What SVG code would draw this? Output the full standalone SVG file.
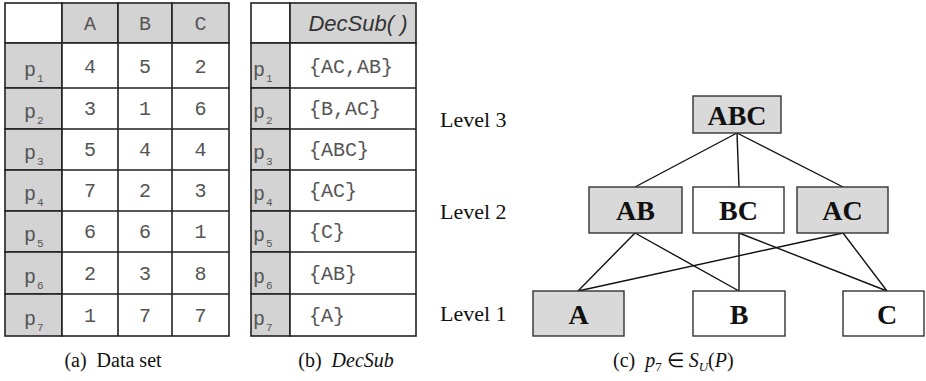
<svg xmlns="http://www.w3.org/2000/svg" width="926" height="381" viewBox="0 0 926 381">
  <style>
    .cell { stroke: #222; stroke-width: 1.6; }
    .hd { fill: #d3d3d3; }
    .wh { fill: #ffffff; }
    .mono { font-family: "Liberation Mono", "DejaVu Sans Mono", monospace; font-size: 20px; fill: #555; }
    .sub { font-family: "Liberation Mono", "DejaVu Sans Mono", monospace; font-size: 11px; fill: #555; }
    .hsans { font-family: "Liberation Sans", Arial, sans-serif; font-size: 22px; font-style: italic; fill: #333; }
    .cap { font-family: "Liberation Serif", "Times New Roman", serif; font-size: 20px; fill: #111; }
    .lvl { font-family: "Liberation Serif", "Times New Roman", serif; font-size: 22px; fill: #111; }
    .node rect { stroke: #333; stroke-width: 1.4; }
    .node text { font-family: "Liberation Serif", "Times New Roman", serif; font-size: 28px; font-weight: bold; fill: #111; text-anchor: middle; }
    .g { fill: #d9d9d9; }
    .w { fill: #ffffff; }
    .edge line { stroke: #111; stroke-width: 1.4; }
  </style>

  <rect width="926" height="381" fill="#ffffff"/>

  <!-- (a) data set table -->
  <g id="table-a">
    <rect class="cell wh" x="5" y="3" width="57" height="40"/>
    <rect class="cell hd" x="62" y="3" width="56" height="40"/>
    <rect class="cell hd" x="118" y="3" width="54" height="40"/>
    <rect class="cell hd" x="172" y="3" width="57" height="40"/>
    <text class="mono" x="90" y="30" text-anchor="middle">A</text>
    <text class="mono" x="145" y="30" text-anchor="middle">B</text>
    <text class="mono" x="200.5" y="30" text-anchor="middle">C</text>

    <!-- row label column -->
    <rect class="cell hd" x="5" y="43" width="57" height="45"/>
    <rect class="cell hd" x="5" y="88" width="57" height="41"/>
    <rect class="cell hd" x="5" y="129" width="57" height="41"/>
    <rect class="cell hd" x="5" y="170" width="57" height="41"/>
    <rect class="cell hd" x="5" y="211" width="57" height="41"/>
    <rect class="cell hd" x="5" y="252" width="57" height="42"/>
    <rect class="cell hd" x="5" y="294" width="57" height="42"/>

    <!-- value cells -->
    <rect class="cell wh" x="62" y="43" width="167" height="293"/>
    <path class="cell" fill="none" d="M118 43V336M172 43V336M62 88H229M62 129H229M62 170H229M62 211H229M62 252H229M62 294H229"/>

    <text class="mono" x="24" y="76">p</text><text class="sub" x="37" y="82">1</text>
    <text class="mono" x="24" y="118">p</text><text class="sub" x="37" y="124">2</text>
    <text class="mono" x="24" y="159">p</text><text class="sub" x="37" y="165">3</text>
    <text class="mono" x="24" y="200">p</text><text class="sub" x="37" y="206">4</text>
    <text class="mono" x="24" y="241">p</text><text class="sub" x="37" y="247">5</text>
    <text class="mono" x="24" y="283">p</text><text class="sub" x="37" y="289">6</text>
    <text class="mono" x="24" y="325">p</text><text class="sub" x="37" y="331">7</text>

    <g text-anchor="middle">
      <text class="mono" x="90" y="73">4</text><text class="mono" x="145" y="73">5</text><text class="mono" x="200.5" y="73">2</text>
      <text class="mono" x="90" y="115">3</text><text class="mono" x="145" y="115">1</text><text class="mono" x="200.5" y="115">6</text>
      <text class="mono" x="90" y="156">5</text><text class="mono" x="145" y="156">4</text><text class="mono" x="200.5" y="156">4</text>
      <text class="mono" x="90" y="197">7</text><text class="mono" x="145" y="197">2</text><text class="mono" x="200.5" y="197">3</text>
      <text class="mono" x="90" y="238">6</text><text class="mono" x="145" y="238">6</text><text class="mono" x="200.5" y="238">1</text>
      <text class="mono" x="90" y="280">2</text><text class="mono" x="145" y="280">3</text><text class="mono" x="200.5" y="280">8</text>
      <text class="mono" x="90" y="322">1</text><text class="mono" x="145" y="322">7</text><text class="mono" x="200.5" y="322">7</text>
    </g>
    <text class="cap" x="113" y="367" text-anchor="middle">(a)&#8194;Data set</text>
  </g>

  <!-- (b) DecSub table -->
  <g id="table-b">
    <rect class="cell wh" x="251" y="3" width="39" height="40"/>
    <rect class="cell hd" x="290" y="3" width="126" height="40"/>
    <text class="hsans" x="358" y="31" text-anchor="middle">DecSub( )</text>

    <rect class="cell hd" x="251" y="43" width="39" height="45"/>
    <rect class="cell hd" x="251" y="88" width="39" height="41"/>
    <rect class="cell hd" x="251" y="129" width="39" height="41"/>
    <rect class="cell hd" x="251" y="170" width="39" height="41"/>
    <rect class="cell hd" x="251" y="211" width="39" height="41"/>
    <rect class="cell hd" x="251" y="252" width="39" height="42"/>
    <rect class="cell hd" x="251" y="294" width="39" height="42"/>

    <rect class="cell wh" x="290" y="43" width="126" height="293"/>
    <path class="cell" fill="none" d="M290 88H416M290 129H416M290 170H416M290 211H416M290 252H416M290 294H416"/>

    <text class="mono" x="253" y="76">p</text><text class="sub" x="266" y="82">1</text>
    <text class="mono" x="253" y="118">p</text><text class="sub" x="266" y="124">2</text>
    <text class="mono" x="253" y="159">p</text><text class="sub" x="266" y="165">3</text>
    <text class="mono" x="253" y="200">p</text><text class="sub" x="266" y="206">4</text>
    <text class="mono" x="253" y="241">p</text><text class="sub" x="266" y="247">5</text>
    <text class="mono" x="253" y="283">p</text><text class="sub" x="266" y="289">6</text>
    <text class="mono" x="253" y="325">p</text><text class="sub" x="266" y="331">7</text>

    <text class="mono" x="309" y="73">{AC,AB}</text>
    <text class="mono" x="309" y="115">{B,AC}</text>
    <text class="mono" x="309" y="156">{ABC}</text>
    <text class="mono" x="309" y="197">{AC}</text>
    <text class="mono" x="309" y="238">{C}</text>
    <text class="mono" x="309" y="280">{AB}</text>
    <text class="mono" x="309" y="322">{A}</text>

    <text class="cap" x="346" y="367" text-anchor="middle">(b)&#8194;<tspan font-style="italic">DecSub</tspan></text>
  </g>

  <!-- (c) subspace lattice -->
  <g id="levels">
    <text class="lvl" x="440" y="127">Level 3</text>
    <text class="lvl" x="440" y="219">Level 2</text>
    <text class="lvl" x="440" y="321">Level 1</text>
  </g>

  <g class="edge" id="connectors">
    <line x1="737" y1="133" x2="635" y2="187"/>
    <line x1="737" y1="133" x2="739" y2="187"/>
    <line x1="737" y1="133" x2="843" y2="187"/>
    <line x1="635" y1="233" x2="578" y2="291"/>
    <line x1="635" y1="233" x2="739" y2="291"/>
    <line x1="739" y1="233" x2="739" y2="291"/>
    <line x1="739" y1="233" x2="887" y2="291"/>
    <line x1="843" y1="233" x2="578" y2="291"/>
    <line x1="843" y1="233" x2="887" y2="291"/>
  </g>

  <g class="node" id="node-ABC">
    <rect class="g" x="693" y="96" width="88" height="37"/>
    <text x="737" y="125">ABC</text>
  </g>
  <g class="node" id="node-AB">
    <rect class="g" x="589" y="187" width="93" height="46"/>
    <text x="635.5" y="220">AB</text>
  </g>
  <g class="node" id="node-BC">
    <rect class="w" x="693" y="187" width="91" height="46"/>
    <text x="738.5" y="220">BC</text>
  </g>
  <g class="node" id="node-AC">
    <rect class="g" x="797" y="187" width="91" height="46"/>
    <text x="842.5" y="220">AC</text>
  </g>
  <g class="node" id="node-A">
    <rect class="g" x="533" y="291" width="91" height="45"/>
    <text x="578.5" y="324">A</text>
  </g>
  <g class="node" id="node-B">
    <rect class="w" x="693" y="291" width="92" height="45"/>
    <text x="739" y="324">B</text>
  </g>
  <g class="node" id="node-C">
    <rect class="w" x="843" y="291" width="81" height="45"/>
    <text x="887" y="324">C</text>
  </g>

  <text class="cap" x="613" y="367">(c)&#8194;<tspan font-style="italic">p</tspan><tspan font-size="13" dy="4">7</tspan><tspan dy="-4"> ∈ </tspan><tspan font-style="italic">S</tspan><tspan font-style="italic" font-size="13" dy="4">U</tspan><tspan dy="-4">(</tspan><tspan font-style="italic">P</tspan>)</text>
</svg>
